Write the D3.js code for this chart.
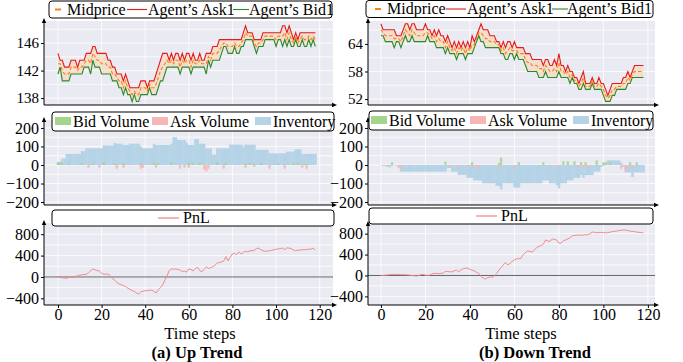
<!DOCTYPE html>
<html>
<head>
<meta charset="utf-8">
<script src="https://cdn.jsdelivr.net/npm/d3@7/dist/d3.min.js"></script>
<style>
  body { margin: 0; background: #fff; }
  svg text { font-family: "Liberation Serif", "Times New Roman", serif; fill: #000; }
</style>
</head>
<body>
<svg width="683" height="362" font-family="Liberation Serif, Times New Roman, serif"></svg>
<script>
// ---- data ----
const timeSteps = d3.range(119);
const xTickVals = [0, 20, 40, 60, 80, 100, 120];

// (a) up trend
const askUp = [144.5,143.5,143.5,142.5,142.5,142.5,143.5,143.5,143.5,142.5,
  143.5,143.5,143.5,144.5,144.5,144.5,145.5,145.5,144.5,144.5,
  144.5,144.5,144.5,143.5,143.5,142.5,142.5,141.5,141.5,141.5,
  140.5,141.5,140.5,139.5,139.5,139.5,139.5,139.5,140.5,140.5,
  140.5,139.5,140.5,140.5,140.5,141.5,142.5,143.5,144.5,144.5,
  144.5,143.5,144.5,143.5,144.5,144.5,143.5,144.5,143.5,144.5,
  144.5,143.5,144.5,143.5,143.5,144.5,143.5,143.5,144.5,144.5,
  144.5,145.5,145.5,145.5,146.5,146.5,146.5,146.5,146.5,146.5,
  146.5,146.5,146.5,146.5,146.5,147.5,148.5,147.5,147.5,147.5,
  146.5,146.5,146.5,146.5,147.5,147.5,147.5,147.5,147.5,147.5,
  147.5,147.5,147.5,148.5,148.5,147.5,148.5,147.5,146.5,147.5,
  146.5,147.5,147.5,147.5,147.5,147.5,147.5,147.5,147.5];
const bidUp = [141.5,142.5,140.5,140.5,140.5,140.5,141.5,141.5,141.5,141.5,
  141.5,141.5,142.5,142.5,142.5,141.5,143.5,142.5,142.5,142.5,
  141.5,141.5,141.5,141.5,141.5,140.5,140.5,140.5,139.5,139.5,
  138.5,139.5,138.5,138.5,137.5,138.5,137.5,137.5,138.5,138.5,
  138.5,138.5,139.5,138.5,138.5,138.5,139.5,140.5,140.5,141.5,
  142.5,142.5,142.5,142.5,142.5,142.5,141.5,142.5,142.5,142.5,
  142.5,141.5,142.5,142.5,142.5,142.5,142.5,142.5,141.5,143.5,
  142.5,143.5,143.5,143.5,143.5,144.5,145.5,145.5,144.5,144.5,
  144.5,145.5,144.5,144.5,145.5,145.5,146.5,146.5,146.5,146.5,
  145.5,144.5,145.5,145.5,145.5,146.5,146.5,146.5,146.5,146.5,
  145.5,146.5,146.5,145.5,146.5,145.5,146.5,145.5,145.5,146.5,
  145.5,145.5,146.5,145.5,145.5,146.5,145.5,146.5,145.5];
const inventoryUp = [15,20,35,35,60,60,60,60,60,60,
  60,75,75,90,90,90,90,90,90,90,
  90,105,105,105,105,105,120,115,115,115,
  108,108,108,115,115,115,115,115,100,90,
  90,90,90,90,115,108,108,108,108,108,
  108,108,115,150,150,135,135,135,135,120,
  108,108,108,140,140,115,115,115,90,90,
  90,55,55,90,90,90,90,90,90,110,
  110,110,110,110,110,100,110,110,110,110,
  110,82,82,82,82,82,82,63,63,63,
  63,63,63,63,63,72,72,72,72,85,
  85,85,60,60,60,60,60,60,60];
const bidVolUpSteps = [0,1,2,5,11,16,21,26,30,38,44,46,52,60,62,65,73,77,86,88,90,93,101,108,110,113];
const bidVolUp      = [15,10,12,8,10,8,15,10,12,10,12,10,15,12,10,15,15,10,8,10,8,10,10,12,10,8];
const askVolUpSteps = [14,19,27,30,38,39,45,56,58,60,67,68,69,76,86,90,97,104,112,114];
const askVolUp      = [-15,-15,-20,-15,-20,-15,-15,-20,-15,-15,-25,-35,-20,-20,-15,-10,-20,-20,-15,-20];
const pnlUp = [0,-5,-15,-20,-25,-10,5,-5,10,20,
  35,40,45,50,80,120,150,135,120,110,
  70,55,50,55,20,-30,-60,-100,-130,-145,
  -160,-180,-210,-230,-255,-270,-300,-320,-280,-265,
  -260,-255,-250,-245,-270,-300,-240,-200,-150,-60,
  20,120,150,145,150,140,130,100,110,90,
  150,140,110,160,180,120,100,140,190,160,
  175,190,220,260,270,280,300,380,300,370,
  430,440,420,470,430,460,480,470,490,490,
  500,530,540,510,490,480,485,490,500,510,
  520,525,530,540,510,545,540,530,500,490,
  500,505,510,510,515,520,520,540,500];

// (b) down trend
const askDown = [68.4,67.1,67.1,67.1,67.1,67.1,67.1,65.8,65.8,65.8,
  67.1,68.4,68.4,67.1,68.4,68.4,67.1,67.1,67.1,67.1,
  68.4,67.1,67.1,65.8,67.1,65.8,67.1,65.8,65.8,64.5,
  65.8,64.5,63.2,64.5,63.2,64.5,63.2,64.5,63.2,64.5,
  63.2,65.8,64.5,65.8,67.1,68.4,67.1,67.1,67.1,65.8,
  65.8,65.8,64.5,64.5,63.2,64.5,63.2,64.5,64.5,63.2,
  64.5,63.2,63.2,63.2,63.2,61.9,61.9,61.9,60.6,60.6,
  60.6,60.6,60.6,59.3,60.6,60.6,59.3,59.3,60.6,59.3,
  61.9,59.3,59.3,58.0,59.3,58.0,58.0,56.7,56.7,55.4,
  56.7,58.0,55.4,55.4,55.4,56.7,55.4,55.4,56.7,55.4,
  55.4,54.1,52.8,54.1,55.4,55.4,55.4,55.4,55.4,56.7,
  56.7,58.0,56.7,58.0,59.3,59.3,59.3,59.3,59.3];
const bidDown = [65.8,65.8,64.5,64.5,64.5,64.5,63.2,64.5,64.5,63.2,
  64.5,65.8,64.5,64.5,65.8,64.5,64.5,64.5,64.5,64.5,
  64.5,65.8,64.5,64.5,64.5,63.2,63.2,63.2,63.2,61.9,
  63.2,61.9,61.9,61.9,60.6,61.9,61.9,61.9,60.6,61.9,
  61.9,61.9,63.2,64.5,65.8,64.5,64.5,63.2,63.2,63.2,
  63.2,63.2,63.2,63.2,61.9,61.9,60.6,60.6,61.9,61.9,
  60.6,61.9,60.6,60.6,60.6,59.3,58.0,58.0,58.0,58.0,
  58.0,56.7,56.7,56.7,58.0,56.7,56.7,56.7,56.7,56.7,
  58.0,56.7,56.7,56.7,56.7,55.4,56.7,55.4,55.4,54.1,
  54.1,55.4,54.1,54.1,54.1,55.4,54.1,54.1,54.1,54.1,
  52.8,51.5,51.5,51.5,52.8,52.8,54.1,54.1,54.1,54.1,
  54.1,55.4,55.4,56.7,56.7,56.7,56.7,56.7,56.7];
const inventoryDown = [-2,-3,-5,-10,-12,-2,-2,-3,-5,-36,
  -36,-36,-36,-36,-36,-36,-36,-36,-36,-36,
  -36,-36,-36,-36,-36,-36,-36,-36,-36,-36,
  -15,-15,-36,-36,-36,-54,-54,-54,-54,-69,
  -69,-69,-83,-83,-83,-83,-99,-99,-99,-99,
  -99,-99,-113,-113,-131,-99,-99,-99,-99,-99,
  -122,-122,-122,-99,-99,-99,-99,-99,-99,-99,
  -99,-99,-99,-83,-83,-83,-99,-99,-99,-108,
  -126,-99,-99,-99,-83,-83,-83,-69,-69,-69,
  -54,-69,-54,-54,-54,-54,-36,-36,-36,-10,
  -5,10,25,25,25,25,25,25,13,-10,
  -40,-40,-40,-65,-40,-40,-40,-40,-40];
const bidVolDownSteps = [5,29,41,53,54,62,73,82,84,87,90,92,97,100,101,103,112,115];
const bidVolDown      = [15,18,15,10,40,15,15,20,20,20,15,15,25,15,15,15,15,15];
const askVolDownSteps = [1,2,8,9,31,35,39,42,44,53,60,77,80,89,91,94,108,110,113];
const askVolDown      = [-5,-5,-15,-20,-15,-15,-10,-15,-15,-15,-15,-10,-10,-15,-15,-15,-20,-30,-20];
const pnlDown = [0,0,5,10,15,20,20,20,20,15,
  15,15,10,5,0,-5,-10,0,15,20,
  5,0,5,30,40,40,35,40,45,80,
  75,70,70,90,100,70,110,130,140,140,
  120,100,90,60,40,-20,-50,-70,-40,-30,
  -30,-10,40,100,150,200,250,200,230,270,
  300,320,320,330,400,440,470,460,450,490,
  530,560,570,600,680,660,650,700,690,680,
  620,620,660,680,700,720,760,765,770,770,
  775,770,780,780,800,830,825,820,820,825,
  820,815,820,830,840,845,850,860,865,870,
  870,860,850,845,840,830,825,820,815];

// ---- layout ----
const svg = d3.select('svg');
const BG = '#eaeaf2';
const C = { ask: '#e41a1c', bid: '#2a8a2a', mid: '#ff7f0e', band: '#fdd0a2',
            bidVol: '#a5d48b', askVol: '#f7b6b6', inv: '#b5d3e7', pnl: '#f08080' };

const columns = [
  { x0: 44, x1: 333, xDomain: [-6.4, 126.1], ask: askUp, bid: bidUp,
    inv: inventoryUp, bvS: bidVolUpSteps, bv: bidVolUp, avS: askVolUpSteps, av: askVolUp,
    pnl: pnlUp, priceDomain: [137, 149.2], priceGrid: [138,140,142,144,146,148], priceLabels: [138,142,146],
    pnlDomain: [-525, 1010], rows: [[21,105],[120,205],[223,305]],
    legends: [[49,1,283,17],[52,112,282,19],[52,210,282,16]],
    titleX: 200, caption: '(a) Up Trend', captionX: 197 },
  { x0: 368, x1: 655, xDomain: [-5.8, 123.2], ask: askDown, bid: bidDown,
    inv: inventoryDown, bvS: bidVolDownSteps, bv: bidVolDown, avS: askVolDownSteps, av: askVolDown,
    pnl: pnlDown, priceDomain: [50.7, 69.0], priceGrid: [52,55,58,61,64,67], priceLabels: [52,58,64],
    pnlDomain: [-565, 985], rows: [[21,105],[120,205],[224,305]],
    legends: [[366,0.5,287,17],[369,111,284,19],[369,208,284,16]],
    titleX: 521, caption: '(b) Down Trend', captionX: 535 }
];

const makePanel = (col, row, yDomain, gridVals) => {
  const x = d3.scaleLinear().domain(col.xDomain).range([col.x0, col.x1]);
  const y = d3.scaleLinear().domain(yDomain).range([row[1], row[0]]);
  const g = svg.append('g');
  g.append('rect')
    .attr('x', col.x0).attr('y', row[0])
    .attr('width', col.x1 - col.x0).attr('height', row[1] - row[0])
    .attr('fill', BG);
  g.selectAll('.hgrid').data(gridVals).enter().append('line')
    .attr('x1', col.x0).attr('x2', col.x1)
    .attr('y1', d => y(d)).attr('y2', d => y(d))
    .attr('stroke', '#fff').attr('stroke-width', 0.8);
  g.selectAll('.vgrid').data(xTickVals).enter().append('line')
    .attr('x1', d => x(d)).attr('x2', d => x(d))
    .attr('y1', row[0]).attr('y2', row[1])
    .attr('stroke', '#fff').attr('stroke-width', 0.8);
  return { g, x, y };
};

const finishPanel = (p, col, row, labelVals, fontSize, showX) => {
  const yAxis = p.g.append('g')
    .attr('transform', `translate(${col.x0},0)`)
    .call(d3.axisLeft(p.y).tickValues(labelVals).tickSize(3).tickPadding(2).tickFormat(d3.format('d')));
  yAxis.attr('font-family', null).attr('font-size', null);
  yAxis.select('.domain').remove();
  yAxis.selectAll('text').attr('font-size', fontSize);
  yAxis.selectAll('line').attr('stroke', '#000');

  if (showX) {
    const xAxis = p.g.append('g')
      .attr('transform', `translate(0,${row[1]})`)
      .call(d3.axisBottom(p.x).tickValues(xTickVals).tickSize(3).tickPadding(1));
    xAxis.attr('font-family', null).attr('font-size', null);
    xAxis.select('.domain').remove();
    xAxis.selectAll('text').attr('font-size', 16);
  }
  // spines with arrow heads
  p.g.append('line').attr('x1', col.x0).attr('x2', col.x0)
    .attr('y1', row[1]).attr('y2', row[0] - 1).attr('stroke', '#000').attr('stroke-width', 1);
  p.g.append('path')
    .attr('d', `M${col.x0},${row[0] - 3}L${col.x0 - 2.2},${row[0] + 2}L${col.x0 + 2.2},${row[0] + 2}Z`);
  p.g.append('line').attr('x1', col.x0).attr('x2', col.x1 + 2)
    .attr('y1', row[1]).attr('y2', row[1]).attr('stroke', '#000').attr('stroke-width', 1);
  p.g.append('path')
    .attr('d', `M${col.x1 + 4},${row[1]}L${col.x1 - 1},${row[1] - 2.2}L${col.x1 - 1},${row[1] + 2.2}Z`);
};

const legendBox = (b) => {
  const g = svg.append('g');
  g.append('rect').attr('x', b[0]).attr('y', b[1]).attr('width', b[2]).attr('height', b[3])
    .attr('rx', 3).attr('fill', '#fff').attr('stroke', '#000').attr('stroke-width', 1);
  return g;
};

columns.forEach((col, ci) => {
  // ---------- price panel ----------
  const r0 = col.rows[0];
  const p0 = makePanel(col, r0, col.priceDomain, col.priceGrid);
  const mid = timeSteps.map(i => (col.ask[i] + col.bid[i]) / 2);
  p0.g.append('path')
    .datum(timeSteps)
    .attr('d', d3.area().x(i => p0.x(i)).y0(i => p0.y(col.bid[i])).y1(i => p0.y(col.ask[i])))
    .attr('fill', C.band).attr('opacity', 0.45);
  p0.g.append('path').datum(timeSteps)
    .attr('d', d3.line().x(i => p0.x(i)).y(i => p0.y(col.bid[i])))
    .attr('fill', 'none').attr('stroke', C.bid).attr('stroke-width', 1.1);
  p0.g.append('path').datum(timeSteps)
    .attr('d', d3.line().x(i => p0.x(i)).y(i => p0.y(col.ask[i])))
    .attr('fill', 'none').attr('stroke', C.ask).attr('stroke-width', 1.1);
  p0.g.append('path').datum(timeSteps)
    .attr('d', d3.line().x(i => p0.x(i)).y(i => p0.y(mid[i])))
    .attr('fill', 'none').attr('stroke', C.mid).attr('stroke-width', 1.1)
    .attr('stroke-dasharray', '3.5,2');
  finishPanel(p0, col, r0, col.priceLabels, 15, false);

  // ---------- volume / inventory panel ----------
  const r1 = col.rows[1];
  const p1 = makePanel(col, r1, [-216, 243], [-200,-150,-100,-50,0,50,100,150,200]);
  const bw = p1.x(1) - p1.x(0);
  p1.g.selectAll('.inv').data(timeSteps).enter().append('rect')
    .attr('x', i => p1.x(i) - bw / 2).attr('width', bw + 0.3)
    .attr('y', i => p1.y(Math.max(0, col.inv[i])))
    .attr('height', i => Math.abs(p1.y(col.inv[i]) - p1.y(0)))
    .attr('fill', C.inv);
  p1.g.selectAll('.bv').data(col.bvS).enter().append('rect')
    .attr('x', (s) => p1.x(s) - bw / 2).attr('width', bw)
    .attr('y', (s, k) => p1.y(col.bv[k]))
    .attr('height', (s, k) => p1.y(0) - p1.y(col.bv[k]))
    .attr('fill', C.bidVol).attr('opacity', 0.85);
  p1.g.selectAll('.av').data(col.avS).enter().append('rect')
    .attr('x', (s) => p1.x(s) - bw / 2).attr('width', bw)
    .attr('y', p1.y(0))
    .attr('height', (s, k) => p1.y(col.av[k]) - p1.y(0))
    .attr('fill', C.askVol).attr('opacity', 0.9);
  finishPanel(p1, col, r1, [-200,-100,0,100,200], 16, false);

  // ---------- PnL panel ----------
  const r2 = col.rows[2];
  const p2 = makePanel(col, r2, col.pnlDomain, [-400,-200,0,200,400,600,800]);
  p2.g.append('line').attr('x1', col.x0).attr('x2', col.x1)
    .attr('y1', p2.y(0)).attr('y2', p2.y(0)).attr('stroke', '#555').attr('stroke-width', 0.9);
  p2.g.append('path').datum(timeSteps)
    .attr('d', d3.line().x(i => p2.x(i)).y(i => p2.y(col.pnl[i])))
    .attr('fill', 'none').attr('stroke', C.pnl).attr('stroke-width', 0.9);
  finishPanel(p2, col, r2, [-400,0,400,800], 16, true);

  // ---------- legends ----------
  const L0 = col.legends[0];
  const lg0 = legendBox(L0);
  const by0 = L0[1] + 8.5;
  const tb0 = L0[1] + 13.5;
  const off = ci === 0 ? [6, 18, 78, 99, 184, 200] : [9, 21, 80, 101, 186, 201];
  lg0.append('line').attr('x1', L0[0] + off[0]).attr('x2', L0[0] + off[0] + 6)
    .attr('y1', by0).attr('y2', by0).attr('stroke', C.mid).attr('stroke-width', 2);
  lg0.append('text').attr('x', L0[0] + off[1]).attr('y', tb0).attr('font-size', 16).text('Midprice');
  lg0.append('line').attr('x1', L0[0] + off[2]).attr('x2', L0[0] + off[2] + 20)
    .attr('y1', by0).attr('y2', by0).attr('stroke', C.ask).attr('stroke-width', 1.1);
  lg0.append('text').attr('x', L0[0] + off[3]).attr('y', tb0).attr('font-size', 16).text('Agent\u2019s Ask1');
  lg0.append('line').attr('x1', L0[0] + off[4]).attr('x2', L0[0] + off[4] + 16)
    .attr('y1', by0).attr('y2', by0).attr('stroke', C.bid).attr('stroke-width', 1.1);
  lg0.append('text').attr('x', L0[0] + off[5]).attr('y', tb0).attr('font-size', 16).text('Agent\u2019s Bid1');

  const L1 = col.legends[1];
  const lg1 = legendBox(L1);
  const items1 = [['Bid Volume', C.bidVol], ['Ask Volume', C.askVol], ['Inventory', C.inv]];
  const sw = ci === 0 ? [3, 100, 203] : [2, 101, 204];
  items1.forEach((it, k) => {
    lg1.append('rect').attr('x', L1[0] + sw[k]).attr('y', L1[1] + 5)
      .attr('width', 16).attr('height', 8).attr('fill', it[1]);
    lg1.append('text').attr('x', L1[0] + sw[k] + 18).attr('y', L1[1] + 15)
      .attr('font-size', 16).text(it[0]);
  });

  const L2 = col.legends[2];
  const lg2 = legendBox(L2);
  const cx = L2[0] + L2[2] / 2;
  lg2.append('line').attr('x1', cx - 35).attr('x2', cx - 14)
    .attr('y1', L2[1] + 8).attr('y2', L2[1] + 8).attr('stroke', C.pnl).attr('stroke-width', 1.2);
  lg2.append('text').attr('x', cx - 10).attr('y', L2[1] + 13).attr('font-size', 16).text('PnL');

  // ---------- axis title & caption ----------
  svg.append('text').attr('x', col.titleX).attr('y', 339).attr('text-anchor', 'middle')
    .attr('font-size', 16.5).text('Time steps');
  svg.append('text').attr('x', col.captionX).attr('y', 357.5).attr('text-anchor', 'middle')
    .attr('font-size', 16.5).attr('font-weight', 'bold').text(col.caption);
});
</script>
</body>
</html>
